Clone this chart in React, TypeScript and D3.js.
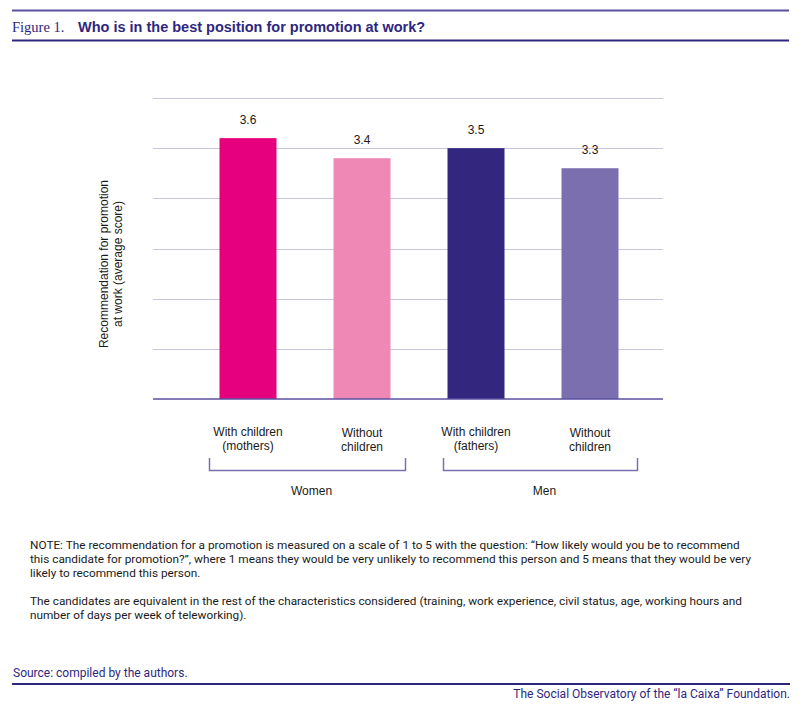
import * as d3 from "d3"
import { useEffect, useRef } from "react"

const categories = ["mothers", "women_nochild", "fathers", "men_nochild"]
const categoryLabels = [
    ["With children", "(mothers)"],
    ["Without", "children"],
    ["With children", "(fathers)"],
    ["Without", "children"],
]
const values = [3.6, 3.4, 3.5, 3.3]
const barColors = ["#e6007e", "#f088b6", "#32267f", "#7b6faf"]
const groups = [
    { name: "Women", members: ["mothers", "women_nochild"] },
    { name: "Men", members: ["fathers", "men_nochild"] },
]
const gridTicks = [1, 1.5, 2, 2.5, 3, 3.5, 4]
const yLabel = ["Recommendation for promotion", "at work (average score)"]
const noteLines = [
    "NOTE: The recommendation for a promotion is measured on a scale of 1 to 5 with the question: \u201cHow likely would you be to recommend",
    "this candidate for promotion?\u201d, where 1 means they would be very unlikely to recommend this person and 5 means that they would be very",
    "likely to recommend this person.",
    "",
    "The candidates are equivalent in the rest of the characteristics considered (training, work experience, civil status, age, working hours and",
    "number of days per week of teleworking).",
]

const navy = "#2e2780"
const sans = "'Liberation Sans', Arial, sans-serif"
const narrow = "'Roboto', 'Liberation Sans', sans-serif"
// bracket overhang beyond the outer bars (left, right)
const bracketPad = [[-10, 15], [-4, 19]]

export default function App() {
    const ref = useRef<SVGSVGElement | null>(null)

    useEffect(() => {
        const width = 800
        const height = 709
        const svg = d3.select(ref.current)
        svg.selectAll("*").remove()
        svg.attr("width", width).attr("height", height)

        // header
        svg.append("line")
            .attr("x1", 12).attr("x2", 789).attr("y1", 10.5).attr("y2", 10.5)
            .attr("stroke", "#5a50a0").attr("stroke-width", 2)
        svg.append("text")
            .attr("x", 12).attr("y", 32)
            .attr("font-family", "'Liberation Serif', serif")
            .attr("font-size", 14.5)
            .attr("fill", navy)
            .text("Figure 1.")
        svg.append("text")
            .attr("x", 78).attr("y", 32)
            .attr("font-family", sans)
            .attr("font-weight", "bold")
            .attr("font-size", 14.5)
            .attr("fill", navy)
            .text("Who is in the best position for promotion at work?")
        svg.append("line")
            .attr("x1", 12).attr("x2", 789).attr("y1", 40.5).attr("y2", 40.5)
            .attr("stroke", navy).attr("stroke-width", 2)

        // scales
        const x = d3.scaleBand<string>()
            .domain(categories)
            .range([191, 647])
            .paddingInner(0.5)
            .paddingOuter(0.25)
        const y = d3.scaleLinear().domain([1, 4]).range([399, 98])

        const plot = svg.append("g")

        plot.append("g")
            .selectAll("line")
            .data(gridTicks.slice(1))
            .join("line")
            .attr("x1", 153).attr("x2", 663)
            .attr("y1", (d) => Math.round(y(d)) + 0.5)
            .attr("y2", (d) => Math.round(y(d)) + 0.5)
            .attr("stroke", "#c9c5df")
            .attr("stroke-width", 1)

        plot.append("g")
            .selectAll("rect")
            .data(values)
            .join("rect")
            .attr("x", (_, i) => x(categories[i])!)
            .attr("width", x.bandwidth())
            .attr("y", (d) => y(d))
            .attr("height", (d) => y(1) - y(d))
            .attr("fill", (_, i) => barColors[i])

        plot.append("line")
            .attr("x1", 153).attr("x2", 663)
            .attr("y1", y(1)).attr("y2", y(1))
            .attr("stroke", "#5a50a0").attr("stroke-width", 1.5)

        plot.append("g")
            .selectAll("text")
            .data(values)
            .join("text")
            .attr("x", (_, i) => x(categories[i])! + x.bandwidth() / 2)
            .attr("y", (d) => y(d) - 14)
            .attr("text-anchor", "middle")
            .attr("font-family", sans)
            .attr("font-size", 12)
            .attr("fill", "#1a1a1a")
            .text((d) => d.toFixed(1))

        // category labels
        const cat = plot.append("g")
            .selectAll("text")
            .data(categoryLabels)
            .join("text")
            .attr("text-anchor", "middle")
            .attr("font-family", sans)
            .attr("font-size", 12)
            .attr("fill", "#1a1a1a")
            .attr("transform", (_, i) =>
                `translate(${x(categories[i])! + x.bandwidth() / 2},${i % 2 === 0 ? 436 : 437})`)
        cat.selectAll("tspan")
            .data((d) => d)
            .join("tspan")
            .attr("x", 0)
            .attr("dy", (_, j) => (j === 0 ? 0 : 13.5))
            .text((d) => d)

        // group brackets
        groups.forEach((g, gi) => {
            const x0 = x(g.members[0])! + bracketPad[gi][0]
            const x1 = x(g.members[1])! + x.bandwidth() + bracketPad[gi][1]
            plot.append("path")
                .attr("d", `M${x0},458V470.5H${x1}V458`)
                .attr("fill", "none")
                .attr("stroke", "#7b6faf")
                .attr("stroke-width", 1.5)
            plot.append("text")
                .attr("x", (x0 + x1) / 2 + 4)
                .attr("y", 495)
                .attr("text-anchor", "middle")
                .attr("font-family", sans)
                .attr("font-size", 12)
                .attr("fill", "#1a1a1a")
                .text(g.name)
        })

        // y label
        plot.append("text")
            .attr("transform", "translate(108,264) rotate(-90)")
            .attr("text-anchor", "middle")
            .attr("font-family", sans)
            .attr("font-size", 12)
            .attr("fill", "#1a1a1a")
            .selectAll("tspan")
            .data(yLabel)
            .join("tspan")
            .attr("x", 0)
            .attr("dy", (_, j) => (j === 0 ? 0 : 14))
            .text((d) => d)

        // notes
        svg.append("text")
            .attr("font-family", narrow)
            .attr("font-size", 11.8)
            .attr("fill", "#1a1a1a")
            .selectAll("tspan")
            .data(noteLines)
            .join("tspan")
            .attr("x", 30)
            .attr("y", (_, i) => 549 + i * 14)
            .text((d) => d)

        // footer
        svg.append("text")
            .attr("x", 13).attr("y", 677)
            .attr("font-family", narrow)
            .attr("font-size", 12)
            .attr("fill", navy)
            .text("Source: compiled by the authors.")
        svg.append("line")
            .attr("x1", 12).attr("x2", 790).attr("y1", 684).attr("y2", 684)
            .attr("stroke", navy).attr("stroke-width", 2)
        svg.append("text")
            .attr("x", 790).attr("y", 698)
            .attr("text-anchor", "end")
            .attr("font-family", narrow)
            .attr("font-size", 12)
            .attr("fill", navy)
            .text("The Social Observatory of the \u201cla Caixa\u201d Foundation.")
    }, [])

    return <svg ref={ref} style={{ position: "absolute", left: 0, top: 0, background: "#fff" }} />
}
